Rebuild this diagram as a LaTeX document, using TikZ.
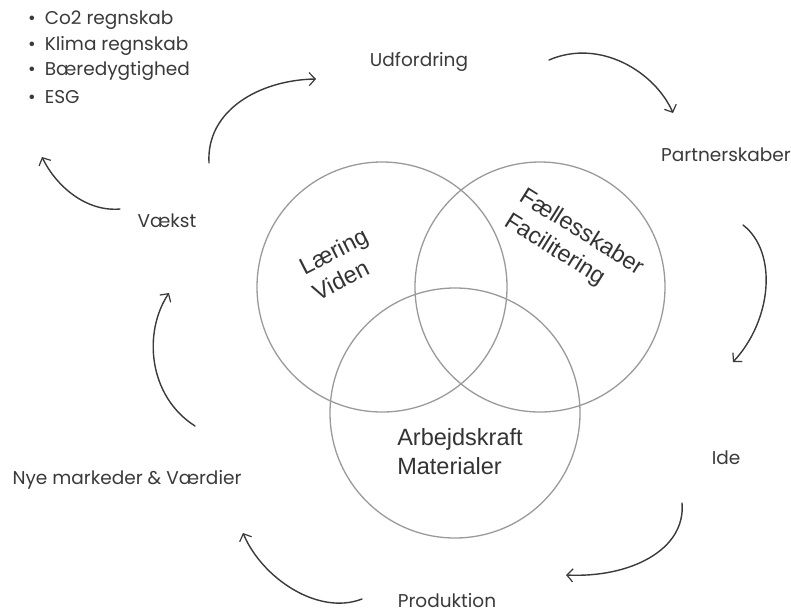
\documentclass[tikz,border=0pt]{standalone}
\usepackage{fontspec}
\setmainfont{Poppins}
\newfontfamily\vennfont{Liberation Sans}
\usetikzlibrary{arrows.meta}
\definecolor{txt}{HTML}{3A3A3A}
\definecolor{ring}{HTML}{9A9A9A}
\definecolor{arr}{HTML}{3A3A3A}
\tikzset{
  lbl/.style={text=txt, font=\fontsize{18.5}{22}\selectfont, inner sep=0pt},
  bul/.style={lbl, anchor=west},
  vtxt/.style={text=black!80, font=\vennfont\fontsize{23.5}{29}\selectfont, align=left, inner sep=0pt},
  ringc/.style={draw=ring, line width=1.3pt},
  flow/.style={draw=arr, line width=1.4pt, line cap=round, -{Straight Barb[length=6pt,width=13pt,line width=1.2pt]}}
}
\begin{document}
\begin{tikzpicture}[x=1pt,y=-1pt]
\useasboundingbox (0,0) rectangle (791,614);
\fill[white] (0,0) rectangle (791,614);
% Venn circles
\node[ringc, circle, minimum size=250pt, inner sep=0pt] (cL) at (382,287) {};
\node[ringc, circle, minimum size=250pt, inner sep=0pt] (cR) at (540,287) {};
\node[ringc, circle, minimum size=250pt, inner sep=0pt] (cB) at (455,413) {};
\node[vtxt, rotate=27] (tL) at (340,264) {Læring\\Viden};
\node[vtxt, rotate=-32] (tR) at (574,245) {Fællesskaber\\Facilitering};
\node[vtxt] (tB) at (460,452) {Arbejdskraft\\Materialer};
% outer labels
\node[lbl] (udf) at (419,62) {Udfordring};
\node[lbl] (par) at (726,155) {Partnerskaber};
\node[lbl] (ide) at (726,458) {Ide};
\node[lbl] (pro) at (447,601) {Produktion};
\node[lbl] (nye) at (127,480) {Nye markeder \& Værdier};
\node[lbl] (vae) at (167,221) {Vækst};
\node[bul] (b1) at (28,20) {•\hspace{9pt}Co2 regnskab};
\node[bul] (b2) at (28,46) {•\hspace{9pt}Klima regnskab};
\node[bul] (b3) at (28,71) {•\hspace{9pt}Bæredygtighed};
\node[bul] (b4) at (28,97) {•\hspace{9pt}ESG};
% arrow end points
\coordinate (a1s) at (209,163); \coordinate (a1e) at (316,79);
\coordinate (a2s) at (549,60);  \coordinate (a2e) at (673,113);
\coordinate (a3s) at (743,225); \coordinate (a3e) at (733,362);
\coordinate (a4s) at (682,503); \coordinate (a4e) at (566,575);
\coordinate (a5s) at (362,599); \coordinate (a5e) at (243,533);
\coordinate (a6s) at (195,426); \coordinate (a6e) at (169,293);
\coordinate (a7s) at (120,209); \coordinate (a7e) at (42,157);
\draw[flow] (a1s) .. controls (206,110) and (260,80) .. (a1e);
\draw[flow] (a2s) .. controls (600,38) and (655,72) .. (a2e);
\draw[flow] (a3s) .. controls (778,252) and (772,320) .. (a3e);
\draw[flow] (a4s) .. controls (686,550) and (630,578) .. (a4e);
\draw[flow] (a5s) .. controls (318,616) and (262,578) .. (a5e);
\draw[flow] (a6s) .. controls (148,396) and (143,332) .. (a6e);
\draw[flow] (a7s) .. controls (86,212) and (56,186) .. (a7e);
\end{tikzpicture}
\end{document}
